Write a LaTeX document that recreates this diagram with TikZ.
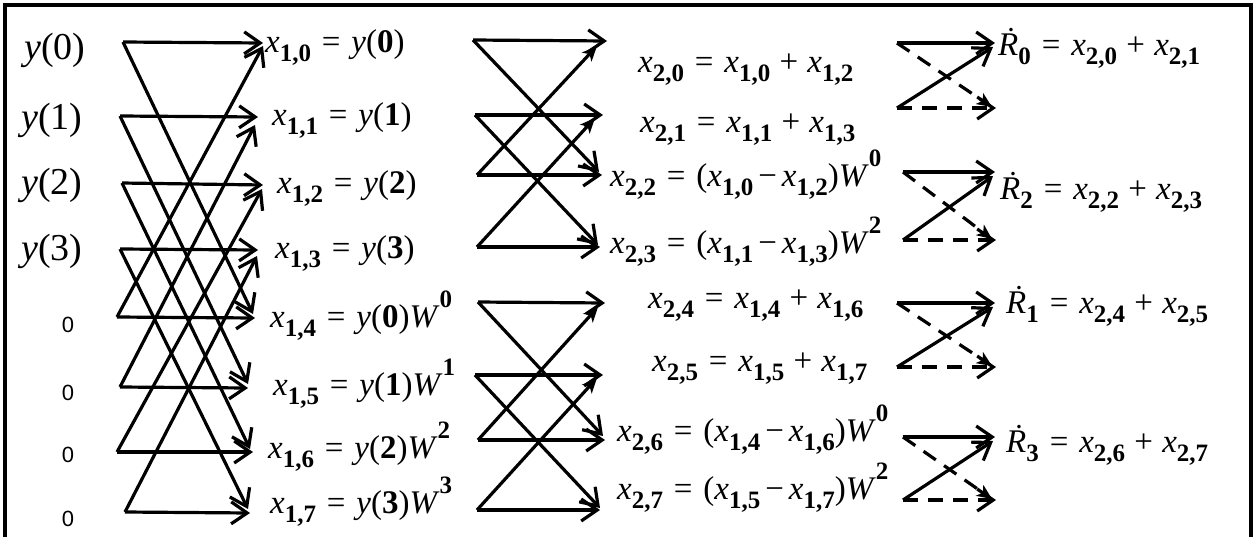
\documentclass[tikz,border=0pt]{standalone}
\usepackage{fontspec}
\setmainfont{Liberation Serif}
\setsansfont{Liberation Sans}
\usetikzlibrary{arrows.meta}
\newcommand{\sbf}[1]{\raisebox{-0.3em}{\fontsize{25}{25}\selectfont\bfseries #1}}
\newcommand{\spf}[1]{\raisebox{0.6em}{\fontsize{25}{25}\selectfont\bfseries #1}}
\newcommand{\VX}[1]{\textit{x}\sbf{#1}}
\newcommand{\VY}[1]{\textit{y}(\textbf{#1})}
\newcommand{\VW}[1]{\textit{W}\spf{#1}}
\newcommand{\VR}[1]{\textit{\.{R}}\sbf{#1}}
\newcommand{\eqs}{\hspace{0.33em}=\hspace{0.33em}}
\newcommand{\pls}{\hspace{0.28em}+\hspace{0.28em}}
\newcommand{\mns}{\hspace{0.15em}−\hspace{0.15em}}
\begin{document}
\begin{tikzpicture}[x=1pt,y=-1pt,
  ln/.style={line width=3.2pt},
  oarr/.style={ln,-{Straight Barb[length=16pt,width=22pt]}},
  farr/.style={ln,-{Stealth[length=15pt,width=13pt,inset=4pt]}},
  dsh/.style={dash pattern=on 15pt off 10pt},
  lab/.style={anchor=base west,inner sep=0pt,font=\fontsize{33}{33}\selectfont},
  ylab/.style={anchor=base west,inner sep=0pt,font=\fontsize{38}{38}\selectfont},
  zlab/.style={inner sep=0pt,font=\sffamily\fontsize{22}{22}\selectfont}]
\useasboundingbox (0,0) rectangle (1255,536);
\fill[white] (0,0) rectangle (1255,536);
\draw[line width=4pt] (5.3,540) -- (5.3,5.3) -- (1251,5.3) -- (1251,540);

% ---------- stage 1 coordinates ----------
\foreach \n/\x/\y in {0/123/42,1/120/116,2/122/183,3/120/249,4/117/317,5/120/387,6/117/452,7/125/512}
  \coordinate (a\n) at (\x,\y);
\foreach \n/\x/\y in {0/263/43,1/258/117,2/263/185,3/258/250,4/255/318,5/248/388,6/253/452,7/250/513}
  \coordinate (ah\n) at (\x,\y);
\foreach \n/\x/\y in {0/263/46,1/255/125,2/262/189,3/257/256,4/253/314,5/248/384,6/250/449,7/248/509}
  \coordinate (ad\n) at (\x,\y);

% ---------- stage 2 coordinates ----------
\foreach \n/\x/\y in {0/473/40,1/475/115,2/477/175,3/477/247,4/478/302,5/475/375,6/478/440,7/477/510}
  \coordinate (b\n) at (\x,\y);
\foreach \n/\x/\y in {0/607/41,1/603/115,2/602/175,3/600/247,4/605/303,5/603/375,6/605/440,7/600/510}
  \coordinate (bh\n) at (\x,\y);
\foreach \n/\x/\y in {0/597/46,1/595/118,2/599/172,3/598/245,4/598/307,5/597/378,6/603/436,7/600/508}
  \coordinate (bd\n) at (\x,\y);

% ---------- stage 3 coordinates ----------
\foreach \n/\x/\ya/\yb in {0/897/43/108,1/903/172/240,2/897/303/367,3/903/437/500}{
  \coordinate (ct\n) at (\x,\ya);
  \coordinate (cb\n) at (\x,\yb);
  \coordinate (cth\n) at (995,\ya);
  \coordinate (ctd\n) at (993,\ya+4);
  \coordinate (cbh\n) at (996,\yb);
  \coordinate (cbd\n) at (992,\yb-1);
}

% ---------- stage 1 connectors ----------
\foreach \k in {0,1,2,3,4,5,6,7} \draw[oarr] (a\k) -- (ah\k);
\foreach \k/\s in {0/4,1/5,2/6,3/7} \draw[oarr] (a\s) -- (ad\k);
\foreach \k/\s in {4/0,5/1,6/2,7/3} \draw[oarr] (a\s) -- (ad\k);

% ---------- stage 2 connectors ----------
\foreach \k in {0,1,2,3,4,5,6,7} \draw[oarr] (b\k) -- (bh\k);
\foreach \k/\s in {0/2,1/3,4/6,5/7} \draw[farr] (b\s) -- (bd\k);
\foreach \k/\s in {2/0,3/1,6/4,7/5} \draw[oarr] (b\s) -- (bd\k);

% ---------- stage 3 connectors ----------
\foreach \n in {0,1,2,3}{
  \draw[oarr] (ct\n) -- (cth\n);
  \draw[oarr] (cb\n) -- (ctd\n);
  \draw[farr,dsh] (ct\n) -- (cbd\n);
  \draw[oarr,dsh] (cb\n) -- (cbh\n);
}

% ---------- input labels ----------
\node[ylab] (y0) at (24,59) {\textit{y}(0)};
\node[ylab] (y1) at (21,129) {\textit{y}(1)};
\node[ylab] (y2) at (21,194) {\textit{y}(2)};
\node[ylab] (y3) at (21,260) {\textit{y}(3)};
\node[zlab] (z4) at (68,325) {0};
\node[zlab] (z5) at (68,393) {0};
\node[zlab] (z6) at (68,455) {0};
\node[zlab] (z7) at (68,519) {0};

% ---------- stage 1 labels ----------
\node[lab] (l0) at (265,52) {\VX{1,0}\eqs\VY{0}};
\node[lab] (l1) at (272,125) {\VX{1,1}\eqs\VY{1}};
\node[lab] (l2) at (277,193) {\VX{1,2}\eqs\VY{2}};
\node[lab] (l3) at (275,258) {\VX{1,3}\eqs\VY{3}};
\node[lab] (l4) at (270,327) {\VX{1,4}\eqs\VY{0}\VW{0}};
\node[lab] (l5) at (273,395) {\VX{1,5}\eqs\VY{1}\VW{1}};
\node[lab] (l6) at (268,458) {\VX{1,6}\eqs\VY{2}\VW{2}};
\node[lab] (l7) at (270,513) {\VX{1,7}\eqs\VY{3}\VW{3}};

% ---------- stage 2 labels ----------
\node[lab] (m0) at (638,72) {\VX{2,0}\eqs\VX{1,0}\pls\VX{1,2}};
\node[lab] (m1) at (640,132) {\VX{2,1}\eqs\VX{1,1}\pls\VX{1,3}};
\node[lab] (m2) at (610,186) {\VX{2,2}\eqs(\VX{1,0}\mns\VX{1,2})\VW{0}};
\node[lab] (m3) at (610,253) {\VX{2,3}\eqs(\VX{1,1}\mns\VX{1,3})\VW{2}};
\node[lab] (m4) at (648,308) {\VX{2,4}\eqs\VX{1,4}\pls\VX{1,6}};
\node[lab] (m5) at (652,371) {\VX{2,5}\eqs\VX{1,5}\pls\VX{1,7}};
\node[lab] (m6) at (617,441) {\VX{2,6}\eqs(\VX{1,4}\mns\VX{1,6})\VW{0}};
\node[lab] (m7) at (617,499) {\VX{2,7}\eqs(\VX{1,5}\mns\VX{1,7})\VW{2}};

% ---------- stage 3 labels ----------
\node[lab] (r0) at (998,55) {\VR{0}\eqs\VX{2,0}\pls\VX{2,1}};
\node[lab] (r2) at (1000,199) {\VR{2}\eqs\VX{2,2}\pls\VX{2,3}};
\node[lab] (r1) at (1006,313) {\VR{1}\eqs\VX{2,4}\pls\VX{2,5}};
\node[lab] (r3) at (1006,452) {\VR{3}\eqs\VX{2,6}\pls\VX{2,7}};
\end{tikzpicture}
\end{document}
